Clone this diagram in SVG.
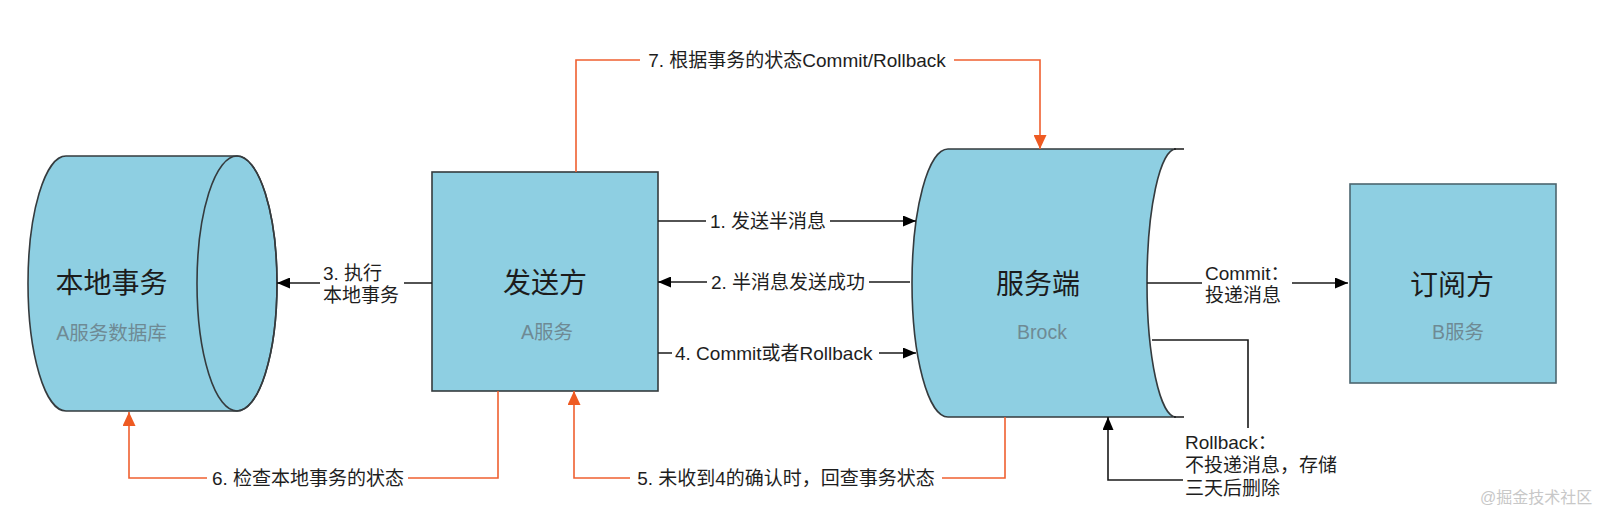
<svg xmlns="http://www.w3.org/2000/svg" width="1622" height="507" viewBox="0 0 1622 507">
<style>
text{font-family:"Liberation Sans","Noto Sans CJK SC",sans-serif;}
.node{fill:#8ecfe2;stroke:#353b3e;stroke-width:1.6;}
.title{font-size:28px;fill:#1c1c1c;text-anchor:middle;}
.sub{font-size:19.5px;fill:#6e8a94;text-anchor:middle;}
.lbl{font-size:19px;fill:#1e1e1e;}
.blk{fill:none;stroke:#1a1a1a;stroke-width:1.6;}
.org{fill:none;stroke:#ef6030;stroke-width:1.6;}
.bg{fill:#ffffff;}
</style>
<defs>
<marker id="ab" viewBox="0 0 13 11" refX="13" refY="5.5" markerWidth="13" markerHeight="11" markerUnits="userSpaceOnUse" orient="auto"><path d="M0,0 L13,5.5 L0,11 Z" fill="#000"/></marker>
<marker id="ao" viewBox="0 0 14 13" refX="14" refY="6.5" markerWidth="14" markerHeight="13" markerUnits="userSpaceOnUse" orient="auto"><path d="M0,0 L14,6.5 L0,13 Z" fill="#ee5a22"/></marker>
</defs>
<rect width="1622" height="507" fill="#ffffff"/>

<g id="local-db">
<path class="node" d="M66,156 H237 A40,127.5 0 0,1 237,411 H66 A38,127.5 0 0,1 66,156 Z"/>
<ellipse cx="237" cy="283.5" rx="40" ry="127.5" fill="none" stroke="#353b3e" stroke-width="1.6"/>
<text class="title" x="111.5" y="293">本地事务</text>
<text class="sub" x="111.5" y="340">A服务数据库</text>
</g>

<g id="sender">
<rect class="node" x="432" y="172" width="226" height="219"/>
<text class="title" x="545" y="293">发送方</text>
<text class="sub" x="547" y="339">A服务</text>
</g>

<g id="broker">
<path class="node" d="M948,149 H1176 A29,134 0 0,0 1176,417 H948 A36,134 0 0,1 948,149 Z"/>
<path class="blk" d="M1174,149 H1184 M1174,417 H1184"/>
<text class="title" x="1038" y="294">服务端</text>
<text class="sub" x="1042" y="339">Brock</text>
</g>

<g id="subscriber">
<rect class="node" x="1350" y="184" width="206" height="199" style="stroke:#4d6670"/>
<text class="title" x="1452" y="295">订阅方</text>
<text class="sub" x="1458" y="339">B服务</text>
</g>

<g id="connectors">
<path class="blk" d="M658,221 H916" marker-end="url(#ab)"/>
<rect class="bg" x="706" y="209" width="124" height="24"/>
<text class="lbl" x="768" y="228" text-anchor="middle">1. 发送半消息</text>

<path class="blk" d="M910,282 H658" marker-end="url(#ab)"/>
<rect class="bg" x="707" y="270" width="162" height="24"/>
<text class="lbl" x="788" y="289" text-anchor="middle">2. 半消息发送成功</text>

<path class="blk" d="M432,283 H277" marker-end="url(#ab)"/>
<rect class="bg" x="320" y="260" width="84" height="46"/>
<text class="lbl" x="323" y="280">3. 执行</text>
<text class="lbl" x="323" y="302">本地事务</text>

<path class="blk" d="M658,353 H916" marker-end="url(#ab)"/>
<rect class="bg" x="672" y="341" width="207" height="24"/>
<text class="lbl" x="675" y="360">4. Commit或者Rollback</text>

<path class="blk" d="M1147,283 H1348" marker-end="url(#ab)"/>
<rect class="bg" x="1202" y="260" width="90" height="46"/>
<text class="lbl" x="1205" y="280">Commit：</text>
<text class="lbl" x="1205" y="302">投递消息</text>

<path class="blk" d="M1152,340 H1248 V428"/>
<text class="lbl" x="1185" y="449">Rollback：</text>
<text class="lbl" x="1185" y="472">不投递消息，存储</text>
<text class="lbl" x="1185" y="495">三天后删除</text>

<path class="blk" d="M1183,480 H1108 V417" marker-end="url(#ab)"/>

<path class="org" d="M576,172 V60 H1040 V149" marker-end="url(#ao)"/>
<rect class="bg" x="640" y="48" width="314" height="24"/>
<text class="lbl" x="797" y="67" text-anchor="middle">7. 根据事务的状态Commit/Rollback</text>

<path class="org" d="M498,391 V478 H129 V412" marker-end="url(#ao)"/>
<rect class="bg" x="207" y="466" width="201" height="24"/>
<text class="lbl" x="308" y="485" text-anchor="middle">6. 检查本地事务的状态</text>

<path class="org" d="M1005,417 V478 H574 V391" marker-end="url(#ao)"/>
<rect class="bg" x="630" y="466" width="312" height="24"/>
<text class="lbl" x="786" y="485" text-anchor="middle">5. 未收到4的确认时，回查事务状态</text>
</g>

<text x="1480" y="503" style="font-size:16px;fill:#c8c8c8">@掘金技术社区</text>
</svg>
